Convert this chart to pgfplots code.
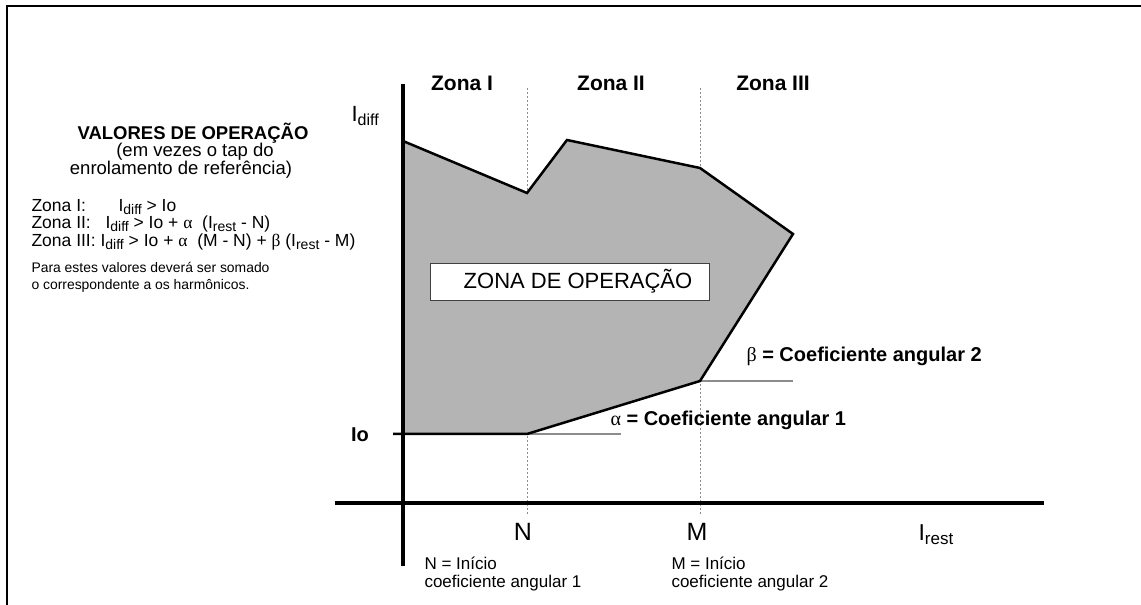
\documentclass[border=0pt]{standalone}
\usepackage{fontspec}
\setmainfont{Liberation Sans}
\newfontfamily\grk{Liberation Serif}
\usepackage{pgfplots}
\pgfplotsset{compat=1.18}
\definecolor{zonefill}{RGB}{180,180,180}
\definecolor{guide}{RGB}{140,140,140}
\newcommand{\fs}[2]{\fontsize{#1}{#2}\selectfont}
\newcommand{\low}[2]{\raisebox{-0.3ex}{\fontsize{#1}{#1}\selectfont #2}}
\begin{document}
\begin{tikzpicture}
\begin{axis}[
  x=1pt, y=1pt,
  xmin=-403, xmax=738,
  ymin=-102, ymax=503,
  hide axis, clip=false, scale only axis,
  every node/.append style={inner sep=0pt},
]
% frame
\addplot[black, line width=2pt, mark=none] coordinates {(-396,-102) (-396,497) (738,497)};

% dotted guides at N and M
\addplot[guide, line width=1pt, dash pattern=on 2pt off 2pt, mark=none] coordinates {(124,415) (124,-12)};
\addplot[guide, line width=1pt, dash pattern=on 2pt off 2pt, mark=none] coordinates {(297,415) (297,-12)};

% operating zone
\addplot[fill=zonefill, draw=none, mark=none] coordinates {
  (0,362) (124,310) (164,363) (297,335) (390,269) (297,122) (124,69) (0,69)
};
% slope reference lines
\addplot[guide, line width=1.2pt, mark=none] coordinates {(124,69) (218,69)};
\addplot[guide, line width=1.2pt, mark=none] coordinates {(297,122) (390,122)};
% boundary
\addplot[black, line width=2.5pt, mark=none] coordinates {
  (0,362) (124,310) (164,363) (297,335) (390,269) (297,122) (124,69) (-10,69)
};

% axes
\addplot[black, line width=4pt, mark=none] coordinates {(0,419) (0,-63)};
\addplot[black, line width=4pt, mark=none] coordinates {(-68,0) (641,0)};

% zone box
\draw[fill=white, draw=black!75, line width=0.8pt] (axis cs:27,203) rectangle (axis cs:306,240);
\node[font=\fs{22}{26}] at (axis cs:175,221.5) {ZONA DE OPERAÇÃO};

% zone titles
\node[font=\fs{21}{24}\bfseries] at (axis cs:59,420) {Zona I};
\node[font=\fs{21}{24}\bfseries] at (axis cs:208,420) {Zona II};
\node[font=\fs{21}{24}\bfseries] at (axis cs:370,420) {Zona III};

% axis labels
\node[anchor=base west, font=\fs{22}{24}] at (axis cs:-55,381) {I\low{16}{diff}};
\node[font=\fs{20}{24}\bfseries] at (axis cs:-43,68) {Io};
\node[font=\fs{25}{28}] at (axis cs:120,-29) {N};
\node[font=\fs{25}{28}] at (axis cs:294,-29) {M};
\node[anchor=base west, font=\fs{23}{26}] at (axis cs:512,-38) {I\low{17}{rest}};

% slope annotations
\node[anchor=base west, font=\fs{20}{24}\bfseries] at (axis cs:340,141) {{\grk\mdseries β} = Coeficiente angular 2};
\node[anchor=base west, font=\fs{20}{24}\bfseries] at (axis cs:204,77) {{\grk\mdseries α} = Coeficiente angular 1};

% N, M notes
\node[anchor=base west, font=\fs{17}{19}] at (axis cs:18,-67) {N = Início};
\node[anchor=base west, font=\fs{17}{19}] at (axis cs:18,-85) {coeficiente angular 1};
\node[anchor=base west, font=\fs{17}{19}] at (axis cs:265,-67) {M = Início};
\node[anchor=base west, font=\fs{17}{19}] at (axis cs:265,-85) {coeficiente angular 2};

% operating values block
\node[font=\fs{18.5}{20}\bfseries] at (axis cs:-210,370) {VALORES DE OPERAÇÃO};
\node[font=\fs{18.5}{20}] at (axis cs:-208,351) {(em vezes o tap do};
\node[font=\fs{18.5}{20}] at (axis cs:-222,333) {enrolamento de referência)};
\node[anchor=base west, font=\fs{17.5}{18}] at (axis cs:-375,291)
  {\makebox[87pt][l]{Zona I:}I\low{14}{diff} > Io};
\node[anchor=base west, font=\fs{17.5}{18}] at (axis cs:-375,274)
  {\makebox[74pt][l]{Zona II:}I\low{14}{diff} > Io + {\grk α}\ \ (I\low{14}{rest} - N)};
\node[anchor=base west, font=\fs{17.5}{18}] at (axis cs:-375,256)
  {Zona III: I\low{14}{diff} > Io + {\grk α}\ \ (M - N) + {\grk β} (I\low{14}{rest} - M)};
\node[anchor=base west, font=\fs{13.9}{16}] at (axis cs:-375,230) {Para estes valores deverá ser somado};
\node[anchor=base west, font=\fs{13.9}{16}] at (axis cs:-375,213) {o correspondente a os harmônicos.};

\coordinate (bbsw) at (axis cs:-403,-102);
\coordinate (bbne) at (axis cs:738,503);
\end{axis}
\pgfresetboundingbox
\path[use as bounding box] (bbsw) rectangle (bbne);
\end{tikzpicture}
\end{document}
